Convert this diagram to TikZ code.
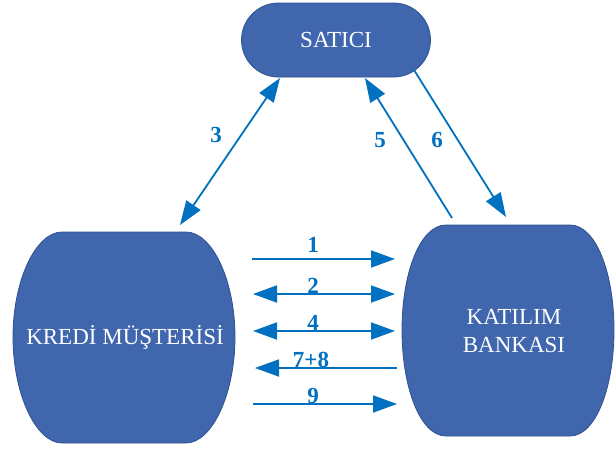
\documentclass[tikz,border=0pt]{standalone}
\usepackage{fontspec}
\setmainfont{Liberation Serif}
\usetikzlibrary{arrows.meta}
\definecolor{boxfill}{HTML}{4066AE}
\definecolor{boxline}{HTML}{2F528F}
\definecolor{arr}{HTML}{0070C0}
\begin{document}
\begin{tikzpicture}[x=1pt,y=-1pt,
  blob/.style={fill=boxfill,draw=boxline,line width=0.8pt},
  lbl/.style={text=white,font=\fontsize{23}{28}\selectfont,align=center},
  tip/.tip={Triangle[length=24pt,width=17pt]},
  arrow/.style={draw=arr,line width=1.8pt,-tip},
  darrow/.style={draw=arr,line width=1.8pt,tip-tip},
  num/.style={text=arr,font=\bfseries\fontsize{23}{24}\selectfont,inner sep=0pt}]
\useasboundingbox (0,0) rectangle (616,450);
% shapes
\path[blob] (62,232) -- (186,232) .. controls (212,232) and (235,280) .. (235,337)
  .. controls (235,394) and (212,443) .. (186,443) -- (62,443)
  .. controls (36,443) and (13,394) .. (13,337)
  .. controls (13,280) and (36,232) .. (62,232) -- cycle;
\node[lbl] (kredi) at (125,337) {KREDİ MÜŞTERİSİ};
\path[blob] (446,225) -- (570,225) .. controls (596,225) and (614,273) .. (614,330)
  .. controls (614,387) and (596,436) .. (570,436) -- (446,436)
  .. controls (420,436) and (402,387) .. (402,330)
  .. controls (402,273) and (420,225) .. (446,225) -- cycle;
\node[lbl] (katilim) at (514,331) {KATILIM\\BANKASI};
\node[blob,lbl,rounded corners=37pt,minimum width=189pt,minimum height=74pt] (satici) at (336,40) {SATICI};
% arrow end points
\coordinate (a1s) at (252,259); \coordinate (a1e) at (395,259);
\coordinate (a2s) at (253,294); \coordinate (a2e) at (395,294);
\coordinate (a4s) at (253,331); \coordinate (a4e) at (395,331);
\coordinate (a7s) at (397,368); \coordinate (a7e) at (255,368);
\coordinate (a9s) at (253,404); \coordinate (a9e) at (397,404);
\coordinate (a3s) at (180,225); \coordinate (a3e) at (280,78);
\coordinate (a5s) at (452,218); \coordinate (a5e) at (365,78);
\coordinate (a6s) at (414,70);  \coordinate (a6e) at (506,217);
\draw[arrow] (a1s) -- (a1e);
\draw[darrow] (a2s) -- (a2e);
\draw[darrow] (a4s) -- (a4e);
\draw[arrow] (a7s) -- (a7e);
\draw[arrow] (a9s) -- (a9e);
\draw[darrow] (a3s) -- (a3e);
\draw[arrow] (a5s) -- (a5e);
\draw[arrow] (a6s) -- (a6e);
% labels
\node[num] (n1) at (313,245) {1};
\node[num] (n2) at (313,286) {2};
\node[num] (n4) at (313,323) {4};
\node[num] (n78) at (311,360) {7+8};
\node[num] (n9) at (313,396) {9};
\node[num] (n3) at (216,135) {3};
\node[num] (n5) at (380,140) {5};
\node[num] (n6) at (437,140) {6};
\end{tikzpicture}
\end{document}
